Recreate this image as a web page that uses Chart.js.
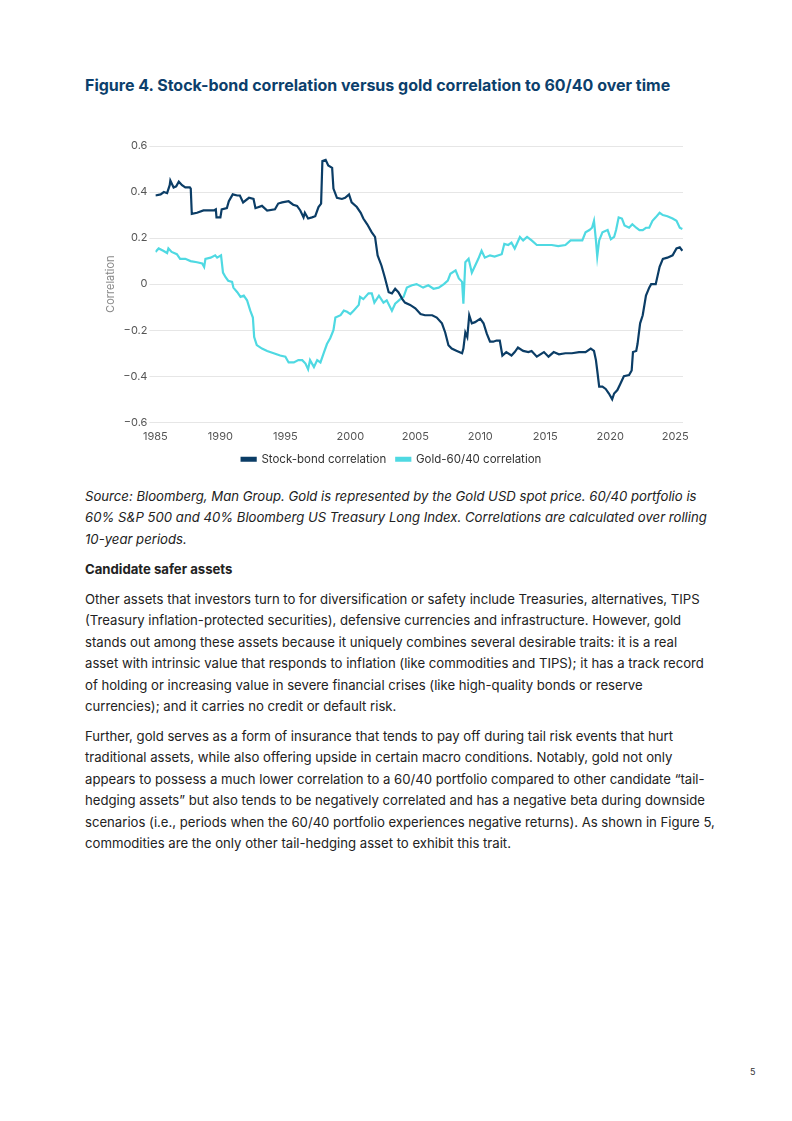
<!DOCTYPE html>
<html>
<head>
<meta charset="utf-8">
<script src="https://cdn.jsdelivr.net/npm/chart.js@4"></script>
<style>
  body { margin: 0; width: 792px; height: 1121px; background: #fff; font-family: Inter, "Noto Sans", sans-serif; color: #222; position: relative; }
  .title { position: absolute; left: 85px; top: 75px; font-size: 16px; font-weight: 700; color: #0c3f6c; line-height: 20px; white-space: nowrap; }
  #chartBox { position: absolute; left: 100px; top: 130px; width: 593px; height: 345px; }
  .txt { position: absolute; left: 85px; font-size: 13.15px; line-height: 21.4px; white-space: nowrap; color: #222; }
  .src { top: 486px; font-style: italic; }
  .head { top: 559px; font-weight: 700; }
  .p1 { top: 589px; }
  .p2 { top: 726px; }
  .page { position: absolute; left: 750px; top: 1066px; font-size: 9px; color: #333; }
</style>
</head>
<body>
<div class="title">Figure 4. Stock-bond correlation versus gold correlation to 60/40 over time</div>
<div id="chartBox"><canvas id="corrChart"></canvas></div>
<div class="txt src">Source: Bloomberg, Man Group. Gold is represented by the Gold USD spot price. 60/40 portfolio is<br>60% S&amp;P 500 and 40% Bloomberg US Treasury Long Index. Correlations are calculated over rolling<br>10-year periods.</div>
<div class="txt head">Candidate safer assets</div>
<div class="txt p1">Other assets that investors turn to for diversification or safety include Treasuries, alternatives, TIPS<br>(Treasury inflation-protected securities), defensive currencies and infrastructure. However, gold<br>stands out among these assets because it uniquely combines several desirable traits: it is a real<br>asset with intrinsic value that responds to inflation (like commodities and TIPS); it has a track record<br>of holding or increasing value in severe financial crises (like high-quality bonds or reserve<br>currencies); and it carries no credit or default risk.</div>
<div class="txt p2">Further, gold serves as a form of insurance that tends to pay off during tail risk events that hurt<br>traditional assets, while also offering upside in certain macro conditions. Notably, gold not only<br>appears to possess a much lower correlation to a 60/40 portfolio compared to other candidate “tail-<br>hedging assets” but also tends to be negatively correlated and has a negative beta during downside<br>scenarios (i.e., periods when the 60/40 portfolio experiences negative returns). As shown in Figure 5,<br>commodities are the only other tail-hedging asset to exhibit this trait.</div>
<div class="page">5</div>

<script>
// tick labels
const xTickYears = [1985, 1990, 1995, 2000, 2005, 2010, 2015, 2020, 2025];
const yTickValues = [-0.6, -0.4, -0.2, 0, 0.2, 0.4, 0.6];

// Stock-bond correlation (rolling 10y)
const stockBondYears = [1985.0, 1985.4, 1985.65, 1985.9, 1986.1, 1986.15, 1986.4, 1986.6, 1986.8, 1987.05, 1987.3, 1987.65, 1987.72, 1987.8,
  1988.2, 1988.7, 1989.5, 1989.65, 1989.7, 1990.0, 1990.1, 1990.5, 1990.65, 1990.95, 1991.3, 1991.5, 1991.75, 1992.2, 1992.55, 1992.7,
  1993.2, 1993.6, 1994.2, 1994.45, 1994.75, 1995.25, 1995.6, 1995.9, 1996.15, 1996.4, 1996.5, 1996.75, 1997.05, 1997.3, 1997.55, 1997.75,
  1997.85, 1998.1, 1998.3, 1998.6, 1998.7, 1998.97, 1999.35, 1999.6, 1999.9, 2000.1, 2000.5, 2000.8, 2001.0, 2001.3, 2001.65, 2001.9,
  2002.1, 2002.4, 2002.65, 2002.95, 2003.2, 2003.45, 2003.7, 2004.0, 2004.2, 2004.6, 2005.0, 2005.4, 2005.75, 2006.3, 2006.65, 2007.05,
  2007.3, 2007.55, 2007.8, 2008.2, 2008.6, 2008.7, 2008.85, 2009.0, 2009.15, 2009.35, 2009.6, 2010.0, 2010.25, 2010.5, 2010.75, 2011.0,
  2011.25, 2011.5, 2011.7, 2012.0, 2012.4, 2012.65, 2012.9, 2013.3, 2013.7, 2013.95, 2014.35, 2014.9, 2015.25, 2015.65, 2016.05, 2016.55,
  2017.05, 2017.6, 2018.1, 2018.5, 2018.75, 2018.9, 2019.0, 2019.15, 2019.4, 2019.65, 2019.9, 2020.15, 2020.3, 2020.55, 2020.8, 2021.05,
  2021.45, 2021.65, 2021.75, 2022.0, 2022.1, 2022.3, 2022.5, 2022.75, 2023.0, 2023.15, 2023.5, 2023.8, 2024.05, 2024.4, 2024.8, 2025.1,
  2025.35, 2025.55];
const stockBondValues = [0.385, 0.39, 0.40, 0.395, 0.43, 0.45, 0.42, 0.425, 0.445, 0.43, 0.42, 0.42, 0.415, 0.305,
  0.31, 0.32, 0.32, 0.325, 0.29, 0.29, 0.325, 0.33, 0.36, 0.39, 0.385, 0.385, 0.355, 0.375, 0.37, 0.33,
  0.34, 0.32, 0.325, 0.35, 0.355, 0.36, 0.345, 0.34, 0.32, 0.29, 0.31, 0.285, 0.29, 0.295, 0.335, 0.35,
  0.535, 0.54, 0.515, 0.505, 0.415, 0.375, 0.37, 0.375, 0.39, 0.355, 0.335, 0.31, 0.285, 0.26, 0.225, 0.205,
  0.125, 0.08, 0.03, -0.035, -0.04, -0.02, -0.035, -0.065, -0.08, -0.09, -0.105, -0.13, -0.135, -0.135, -0.145, -0.17,
  -0.21, -0.265, -0.28, -0.29, -0.30, -0.28, -0.21, -0.23, -0.135, -0.17, -0.165, -0.15, -0.17, -0.215, -0.25, -0.25,
  -0.245, -0.245, -0.31, -0.295, -0.31, -0.295, -0.275, -0.29, -0.295, -0.29, -0.315, -0.295, -0.315, -0.295, -0.305, -0.30,
  -0.30, -0.295, -0.295, -0.28, -0.29, -0.33, -0.375, -0.445, -0.445, -0.455, -0.475, -0.50, -0.475, -0.46, -0.43, -0.40,
  -0.395, -0.375, -0.295, -0.29, -0.26, -0.17, -0.135, -0.05, -0.015, 0.0, 0.0, 0.075, 0.11, 0.115, 0.125, 0.155,
  0.16, 0.145];

// Gold vs 60/40 correlation (rolling 10y)
const goldYears = [1985.0, 1985.25, 1985.6, 1985.9, 1986.0, 1986.25, 1986.65, 1986.9, 1987.3, 1987.7, 1988.2, 1988.6, 1988.75, 1988.85,
  1989.25, 1989.6, 1989.75, 1990.05, 1990.2, 1990.4, 1990.6, 1990.9, 1991.0, 1991.3, 1991.55, 1991.8, 1992.05, 1992.3, 1992.5, 1992.6,
  1992.8, 1993.2, 1993.6, 1994.1, 1994.6, 1995.0, 1995.25, 1995.65, 1996.0, 1996.3, 1996.55, 1996.75, 1996.9, 1997.2, 1997.45, 1997.7,
  1997.95, 1998.2, 1998.45, 1998.7, 1998.85, 1999.25, 1999.5, 1999.75, 2000.0, 2000.25, 2000.65, 2000.75, 2001.0, 2001.4, 2001.65, 2001.85,
  2002.2, 2002.55, 2002.8, 2003.2, 2003.45, 2003.85, 2004.1, 2004.35, 2004.75, 2005.1, 2005.6, 2006.0, 2006.4, 2006.8, 2007.2, 2007.5,
  2007.7, 2008.1, 2008.35, 2008.6, 2008.7, 2008.85, 2009.1, 2009.35, 2009.6, 2009.85, 2010.1, 2010.35, 2010.75, 2011.1, 2011.65, 2011.85,
  2012.15, 2012.4, 2012.65, 2013.05, 2013.3, 2013.6, 2013.95, 2014.35, 2015.0, 2015.5, 2016.0, 2016.55, 2016.95, 2017.45, 2017.85, 2018.1,
  2018.4, 2018.6, 2018.75, 2018.9, 2019.0, 2019.15, 2019.4, 2019.8, 2020.05, 2020.3, 2020.45, 2020.65, 2020.9, 2021.1, 2021.45, 2021.7,
  2022.0, 2022.25, 2022.5, 2022.75, 2023.0, 2023.25, 2023.5, 2023.8, 2024.05, 2024.4, 2024.8, 2025.1, 2025.35, 2025.55];
const goldValues = [0.14, 0.155, 0.145, 0.135, 0.155, 0.14, 0.13, 0.11, 0.11, 0.10, 0.095, 0.09, 0.075, 0.11,
  0.115, 0.125, 0.115, 0.125, 0.05, 0.03, 0.015, 0.01, -0.015, -0.035, -0.055, -0.05, -0.07, -0.115, -0.145, -0.23,
  -0.265, -0.28, -0.29, -0.30, -0.31, -0.315, -0.34, -0.34, -0.33, -0.33, -0.345, -0.37, -0.33, -0.36, -0.33, -0.34,
  -0.30, -0.26, -0.235, -0.20, -0.145, -0.135, -0.115, -0.12, -0.13, -0.115, -0.09, -0.055, -0.065, -0.04, -0.04, -0.08,
  -0.05, -0.08, -0.07, -0.115, -0.085, -0.065, -0.055, -0.015, -0.005, 0.0, -0.015, -0.005, -0.02, -0.015, 0.0, 0.015,
  0.045, 0.06, 0.025, 0.01, -0.085, 0.095, 0.11, 0.05, 0.08, 0.11, 0.145, 0.115, 0.125, 0.12, 0.13, 0.175,
  0.17, 0.18, 0.155, 0.205, 0.19, 0.205, 0.19, 0.17, 0.17, 0.17, 0.165, 0.17, 0.19, 0.19, 0.19, 0.225,
  0.235, 0.245, 0.275, 0.19, 0.12, 0.19, 0.225, 0.235, 0.195, 0.205, 0.235, 0.29, 0.285, 0.255, 0.245, 0.26,
  0.245, 0.235, 0.235, 0.245, 0.245, 0.275, 0.29, 0.31, 0.30, 0.295, 0.285, 0.275, 0.245, 0.24];

document.addEventListener('DOMContentLoaded', () => {
  const ctx = document.getElementById('corrChart').getContext('2d');

  // Tick formatting: use a proper minus sign like the original
  const fmtY = (v) => {
    const r = Math.round(v * 10) / 10;
    if (r === 0) return '0';
    return (r < 0 ? '\u2212' : '') + Math.abs(r).toFixed(1);
  };

  new Chart(ctx, {
    type: 'line',
    data: {
      datasets: [
        {
          label: 'Stock-bond correlation',
          data: stockBondYears.map((yr, i) => ({ x: yr, y: stockBondValues[i] })),
          borderColor: '#0b3d66',
          backgroundColor: '#0b3d66',
          borderWidth: 2.2,
          pointRadius: 0,
          tension: 0,
        },
        {
          label: 'Gold-60/40 correlation',
          data: goldYears.map((yr, i) => ({ x: yr, y: goldValues[i] })),
          borderColor: '#4fd9e2',
          backgroundColor: '#4fd9e2',
          borderWidth: 2.2,
          pointRadius: 0,
          tension: 0,
        },
      ],
    },
    options: {
      responsive: true,
      maintainAspectRatio: false,
      animation: false,
      layout: { padding: { top: 16, right: 10 } },
      plugins: {
        legend: {
          position: 'bottom',
          labels: {
            boxWidth: 14,
            boxHeight: 3,
            color: '#333',
            font: { family: 'Inter', size: 11.5 },
            padding: 10,
          },
        },
        tooltip: { enabled: false },
      },
      scales: {
        x: {
          type: 'linear',
          min: 1985,
          max: 2025.6,
          afterBuildTicks: (axis) => { axis.ticks = xTickYears.map((v) => ({ value: v })); },
          grid: { display: false, drawTicks: true },
          border: { display: false },
          ticks: { color: '#555', font: { family: 'Inter', size: 11 }, callback: (v) => String(v), maxRotation: 0, padding: 0 },
        },
        y: {
          min: -0.6,
          max: 0.6,
          afterBuildTicks: (axis) => { axis.ticks = yTickValues.map((v) => ({ value: v })); },
          grid: { color: '#e6e6e6', lineWidth: 1, tickLength: 6 },
          border: { display: false },
          title: { display: true, text: 'Correlation', color: '#888', font: { family: 'Inter', size: 11 } },
          ticks: { color: '#555', font: { family: 'Inter', size: 11 }, callback: fmtY, padding: 2 },
        },
      },
    },
  });
});
</script>
</body>
</html>
